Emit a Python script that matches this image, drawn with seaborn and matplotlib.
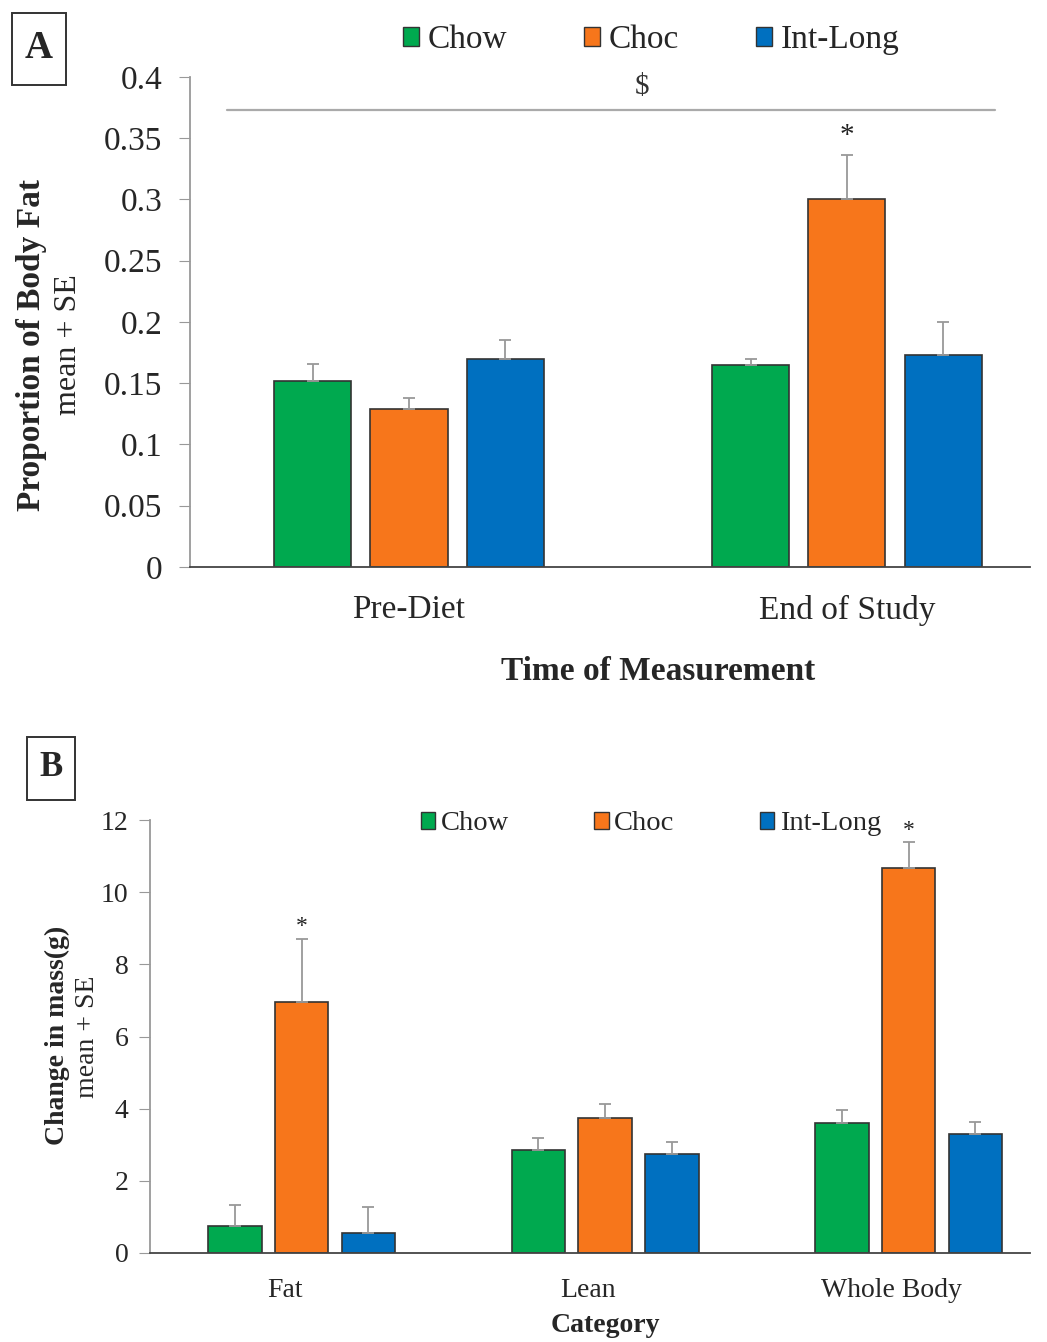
import pandas as pd
import matplotlib
matplotlib.use("Agg")
import matplotlib.pyplot as plt
import matplotlib.transforms as mtransforms
import seaborn as sns

# Data
groups = ["Chow", "Choc", "Int-Long"]
colors = ["#00A94F", "#F7761B", "#0070C0"]

times = ["Pre-Diet", "End of Study"]
fat_prop = {
    "Chow": [0.152, 0.165],
    "Choc": [0.129, 0.300],
    "Int-Long": [0.170, 0.173],
}
fat_prop_top = {
    "Chow": [0.166, 0.170],
    "Choc": [0.138, 0.336],
    "Int-Long": [0.185, 0.200],
}

categories = ["Fat", "Lean", "Whole Body"]
mass_change = {
    "Chow": [0.75, 2.85, 3.60],
    "Choc": [6.95, 3.74, 10.68],
    "Int-Long": [0.55, 2.74, 3.30],
}
mass_change_top = {
    "Chow": [1.33, 3.19, 3.96],
    "Choc": [8.70, 4.13, 11.39],
    "Int-Long": [1.27, 3.08, 3.63],
}

sns.set_style("white")
plt.rcParams["font.family"] = ["Liberation Serif", "DejaVu Serif"]

W, H = 1047, 1342
fig = plt.figure(figsize=(W / 100, H / 100), dpi=100)


def px_axes(left, top, right, bottom):
    return fig.add_axes([left / W, 1 - bottom / H, (right - left) / W, (bottom - top) / H])


def long_table(xname, xs, values):
    rows = []
    for g in groups:
        for x, v in zip(xs, values[g]):
            rows.append({xname: x, "group": g, "value": v})
    return pd.DataFrame(rows)


def draw_bars(ax, xname, xs, values, tops, fs, xpad, ypad):
    df = long_table(xname, xs, values)
    sns.barplot(data=df, x=xname, y="value", hue="group", hue_order=groups,
                palette=colors, saturation=1, width=0.66, gap=0.2, errorbar=None,
                edgecolor="#333333", linewidth=1.2, ax=ax)
    # one-sided error bars (mean + SE)
    for cont, g in zip(ax.containers, groups):
        for bar, top in zip(cont, tops[g]):
            x = bar.get_x() + bar.get_width() / 2
            h = bar.get_height()
            ax.errorbar(x, h, yerr=[[0], [top - h]], fmt="none",
                        ecolor="#999999", elinewidth=1.3, capsize=4, capthick=1.3)
    ax.get_legend().remove()
    sns.despine(ax=ax)
    ax.spines["left"].set_color("#999999")
    ax.spines["left"].set_linewidth(1.3)
    ax.spines["bottom"].set_color("#444444")
    ax.spines["bottom"].set_linewidth(1.3)
    ax.tick_params(axis="y", direction="out", length=8, color="#999999",
                   labelsize=fs, pad=ypad, left=True)
    ax.tick_params(axis="x", length=0, labelsize=fs, pad=xpad)
    ax.set_xlabel("")
    ax.set_ylabel("")


def panel_letter(cx, cy, w, h, letter, fs):
    fig.patches.append(plt.Rectangle(((cx - w / 2) / W, 1 - (cy + h / 2) / H), w / W, h / H,
                                     transform=fig.transFigure, fc="white",
                                     ec="#333333", lw=1.4))
    fig.text(cx / W, 1 - cy / H, letter, ha="center", va="center", fontsize=fs,
             fontweight="bold")


# ---------- Panel A ----------
axA = px_axes(190, 77, 1030, 567)
draw_bars(axA, "time", times, fat_prop, fat_prop_top, 24, 20, 12)
axA.set_ylim(0, 0.4)
axA.set_xlim(-0.5, 1.418)
axA.set_yticks([0, 0.05, 0.1, 0.15, 0.2, 0.25, 0.3, 0.35, 0.4])
axA.set_yticklabels(["0", "0.05", "0.1", "0.15", "0.2", "0.25", "0.3", "0.35", "0.4"])

axA.axhline(0.373, xmin=0.044, xmax=0.958, color="#aaaaaa", lw=1.6)
axA.text(0.538, 0.392, "$", transform=axA.get_yaxis_transform(), ha="center",
         va="center", fontsize=21, color="#333333")
choc_bar = axA.containers[1][1]
axA.text(choc_bar.get_x() + choc_bar.get_width() / 2, fat_prop_top["Choc"][1] + 0.016,
         "*", ha="center", va="center", fontsize=21, color="#222222")

fig.text(658 / W, 1 - 672 / H, "Time of Measurement", ha="center", va="center",
         fontsize=24, fontweight="bold")
fig.text(32 / W, 1 - 345 / H, "Proportion of Body Fat", rotation=90, ha="center",
         va="center", fontsize=24, fontweight="bold")
fig.text(68 / W, 1 - 345 / H, "mean + SE", rotation=90, ha="center", va="center",
         fontsize=23)
panel_letter(39, 49, 54, 72, "A", 28)

handles = [plt.Rectangle((0, 0), 1, 1, fc=c, ec="#333333", lw=1) for c in colors]
fig.legend(handles, groups, loc="center", bbox_to_anchor=(651 / W, 1 - 40 / H),
           ncol=3, frameon=False, fontsize=24, handlelength=0.5, handleheight=0.5,
           handletextpad=0.25, columnspacing=2.3)

# ---------- Panel B ----------
axB = px_axes(150, 820, 1030, 1253)
draw_bars(axB, "category", categories, mass_change, mass_change_top, 20, 18, 7.5)
axB.set_ylim(0, 12)
axB.set_xlim(-0.5, 2.40)
axB.set_yticks(range(0, 13, 2))
# category labels sit a little left of the bar groups in the original
shift = mtransforms.ScaledTranslation(-17 / 100, 0, fig.dpi_scale_trans)
for lab in axB.get_xticklabels():
    lab.set_transform(lab.get_transform() + shift)

for i, off in [(0, 0.35), (2, 0.33)]:
    bar = axB.containers[1][i]
    axB.text(bar.get_x() + bar.get_width() / 2, mass_change_top["Choc"][i] + off,
             "*", ha="center", va="center", fontsize=17, color="#222222")

fig.text(605 / W, 1 - 1325 / H, "Category", ha="center", va="center",
         fontsize=20, fontweight="bold")
fig.text(57 / W, 1 - 1035 / H, "Change in mass(g)", rotation=90, ha="center",
         va="center", fontsize=20, fontweight="bold")
fig.text(88 / W, 1 - 1037 / H, "mean + SE", rotation=90, ha="center", va="center",
         fontsize=20)
panel_letter(51, 768, 48, 63, "B", 25)

fig.legend(handles, groups, loc="center", bbox_to_anchor=(651 / W, 1 - 824 / H),
           ncol=3, frameon=False, fontsize=20.5, handlelength=0.5, handleheight=0.5,
           handletextpad=0.2, columnspacing=3.0)

fig.savefig("out.png", dpi=100)
